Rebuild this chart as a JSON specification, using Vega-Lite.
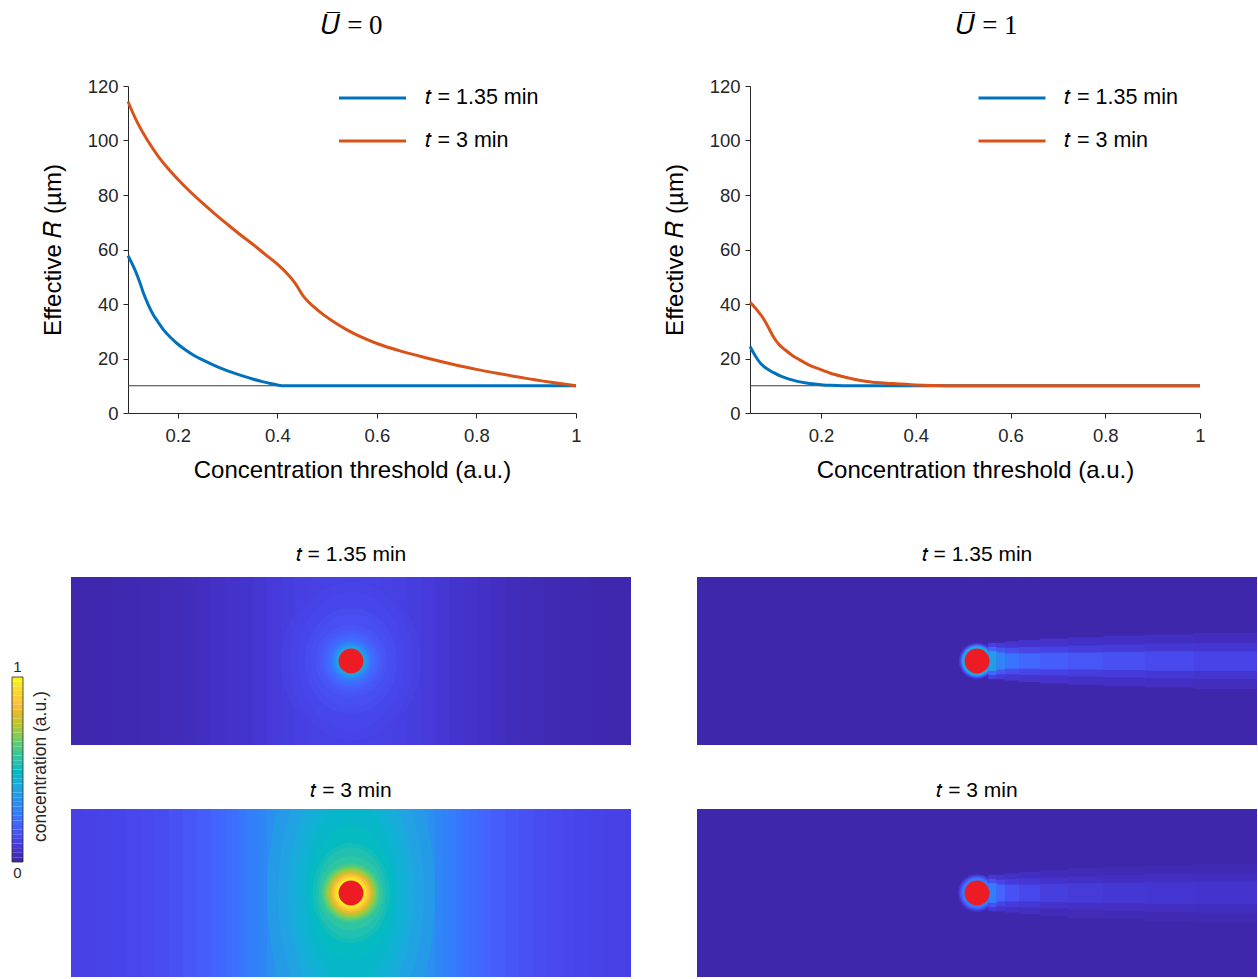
{
"$schema":"https://vega.github.io/schema/vega-lite/v6.json",
"autosize":{"type":"pad"},
"padding":{"left":0,"top":12,"right":0,"bottom":0},
"background":"white",
"config":{
 "view":{"stroke":null},
 "font":"Liberation Sans",
 "axis":{"grid":false,"domainColor":"#262626","domainWidth":1,"tickColor":"#262626","tickWidth":1,"tickSize":5,"labelColor":"#262626","labelFont":"Liberation Sans","labelFontSize":18.5,"labelFlush":false,"titleFont":"Liberation Sans","titleFontSize":24,"titleFontWeight":"normal","titleColor":"#000000"},
 "title":{"fontWeight":"normal","color":"#000000"}
},
"datasets":{
 "lineL":[
  {"s":"𝑡 = 1.35 min","th":0.1,"R":57.7},{"s":"𝑡 = 1.35 min","th":0.114,"R":52.5},{"s":"𝑡 = 1.35 min","th":0.124,"R":47.8},{"s":"𝑡 = 1.35 min","th":0.131,"R":44.0},{"s":"𝑡 = 1.35 min","th":0.141,"R":39.6},{"s":"𝑡 = 1.35 min","th":0.151,"R":36.0},{"s":"𝑡 = 1.35 min","th":0.16,"R":33.5},{"s":"𝑡 = 1.35 min","th":0.171,"R":30.6},{"s":"𝑡 = 1.35 min","th":0.185,"R":27.8},{"s":"𝑡 = 1.35 min","th":0.198,"R":25.6},{"s":"𝑡 = 1.35 min","th":0.215,"R":23.2},{"s":"𝑡 = 1.35 min","th":0.232,"R":21.2},{"s":"𝑡 = 1.35 min","th":0.25,"R":19.5},{"s":"𝑡 = 1.35 min","th":0.272,"R":17.6},{"s":"𝑡 = 1.35 min","th":0.29,"R":16.2},{"s":"𝑡 = 1.35 min","th":0.312,"R":14.7},{"s":"𝑡 = 1.35 min","th":0.33,"R":13.6},{"s":"𝑡 = 1.35 min","th":0.352,"R":12.4},{"s":"𝑡 = 1.35 min","th":0.37,"R":11.5},{"s":"𝑡 = 1.35 min","th":0.386,"R":10.8},{"s":"𝑡 = 1.35 min","th":0.4,"R":10.3},{"s":"𝑡 = 1.35 min","th":0.413,"R":10.0},{"s":"𝑡 = 1.35 min","th":0.6,"R":10.0},{"s":"𝑡 = 1.35 min","th":0.8,"R":10.0},{"s":"𝑡 = 1.35 min","th":1,"R":10.0},
  {"s":"𝑡 = 3 min","th":0.1,"R":114.3},{"s":"𝑡 = 3 min","th":0.11,"R":110.0},{"s":"𝑡 = 3 min","th":0.12,"R":106.2},{"s":"𝑡 = 3 min","th":0.14,"R":99.8},{"s":"𝑡 = 3 min","th":0.16,"R":94.4},{"s":"𝑡 = 3 min","th":0.18,"R":89.8},{"s":"𝑡 = 3 min","th":0.2,"R":85.8},{"s":"𝑡 = 3 min","th":0.225,"R":81.2},{"s":"𝑡 = 3 min","th":0.25,"R":77.0},{"s":"𝑡 = 3 min","th":0.275,"R":73.0},{"s":"𝑡 = 3 min","th":0.3,"R":69.2},{"s":"𝑡 = 3 min","th":0.325,"R":65.5},{"s":"𝑡 = 3 min","th":0.35,"R":62.0},{"s":"𝑡 = 3 min","th":0.375,"R":58.3},{"s":"𝑡 = 3 min","th":0.4,"R":54.6},{"s":"𝑡 = 3 min","th":0.419,"R":51.3},{"s":"𝑡 = 3 min","th":0.436,"R":47.6},{"s":"𝑡 = 3 min","th":0.453,"R":42.7},{"s":"𝑡 = 3 min","th":0.473,"R":39.0},{"s":"𝑡 = 3 min","th":0.493,"R":36.0},{"s":"𝑡 = 3 min","th":0.513,"R":33.5},{"s":"𝑡 = 3 min","th":0.54,"R":30.5},{"s":"𝑡 = 3 min","th":0.567,"R":28.0},{"s":"𝑡 = 3 min","th":0.6,"R":25.5},{"s":"𝑡 = 3 min","th":0.65,"R":22.6},{"s":"𝑡 = 3 min","th":0.7,"R":20.2},{"s":"𝑡 = 3 min","th":0.75,"R":18.0},{"s":"𝑡 = 3 min","th":0.8,"R":16.0},{"s":"𝑡 = 3 min","th":0.85,"R":14.3},{"s":"𝑡 = 3 min","th":0.9,"R":12.7},{"s":"𝑡 = 3 min","th":0.95,"R":11.3},{"s":"𝑡 = 3 min","th":1,"R":10.0}
 ],
 "lineR":[
  {"s":"𝑡 = 1.35 min","th":0.05,"R":24.4},{"s":"𝑡 = 1.35 min","th":0.057,"R":22.2},{"s":"𝑡 = 1.35 min","th":0.064,"R":20.2},{"s":"𝑡 = 1.35 min","th":0.071,"R":18.5},{"s":"𝑡 = 1.35 min","th":0.079,"R":17.1},{"s":"𝑡 = 1.35 min","th":0.09,"R":15.8},{"s":"𝑡 = 1.35 min","th":0.101,"R":14.7},{"s":"𝑡 = 1.35 min","th":0.115,"R":13.5},{"s":"𝑡 = 1.35 min","th":0.131,"R":12.5},{"s":"𝑡 = 1.35 min","th":0.15,"R":11.6},{"s":"𝑡 = 1.35 min","th":0.169,"R":11.0},{"s":"𝑡 = 1.35 min","th":0.2,"R":10.4},{"s":"𝑡 = 1.35 min","th":0.22,"R":10.15},{"s":"𝑡 = 1.35 min","th":0.245,"R":10.0},{"s":"𝑡 = 1.35 min","th":0.5,"R":10.0},{"s":"𝑡 = 1.35 min","th":1,"R":10.0},
  {"s":"𝑡 = 3 min","th":0.05,"R":40.6},{"s":"𝑡 = 3 min","th":0.058,"R":39.2},{"s":"𝑡 = 3 min","th":0.067,"R":37.3},{"s":"𝑡 = 3 min","th":0.075,"R":35.5},{"s":"𝑡 = 3 min","th":0.082,"R":33.6},{"s":"𝑡 = 3 min","th":0.09,"R":31.0},{"s":"𝑡 = 3 min","th":0.101,"R":27.5},{"s":"𝑡 = 3 min","th":0.112,"R":25.0},{"s":"𝑡 = 3 min","th":0.124,"R":23.2},{"s":"𝑡 = 3 min","th":0.138,"R":21.3},{"s":"𝑡 = 3 min","th":0.154,"R":19.6},{"s":"𝑡 = 3 min","th":0.175,"R":17.6},{"s":"𝑡 = 3 min","th":0.2,"R":15.9},{"s":"𝑡 = 3 min","th":0.22,"R":14.6},{"s":"𝑡 = 3 min","th":0.245,"R":13.4},{"s":"𝑡 = 3 min","th":0.27,"R":12.4},{"s":"𝑡 = 3 min","th":0.297,"R":11.6},{"s":"𝑡 = 3 min","th":0.325,"R":11.1},{"s":"𝑡 = 3 min","th":0.35,"R":10.8},{"s":"𝑡 = 3 min","th":0.4,"R":10.3},{"s":"𝑡 = 3 min","th":0.44,"R":10.1},{"s":"𝑡 = 3 min","th":0.47,"R":10.0},{"s":"𝑡 = 3 min","th":0.7,"R":10.0},{"s":"𝑡 = 3 min","th":1,"R":10.0}
 ],
 "stripes":[
  {"p":"TL","x1":-200,"x2":200,"c":0.008},{"p":"TL","x1":-190,"x2":190,"c":0.0085},{"p":"TL","x1":-180,"x2":180,"c":0.009},{"p":"TL","x1":-170,"x2":170,"c":0.011},{"p":"TL","x1":-160,"x2":160,"c":0.013},{"p":"TL","x1":-150,"x2":150,"c":0.016},{"p":"TL","x1":-140,"x2":140,"c":0.019},{"p":"TL","x1":-130,"x2":130,"c":0.023},{"p":"TL","x1":-120,"x2":120,"c":0.027},{"p":"TL","x1":-110,"x2":110,"c":0.032},{"p":"TL","x1":-100,"x2":100,"c":0.038},{"p":"TL","x1":-90,"x2":90,"c":0.046},{"p":"TL","x1":-80,"x2":80,"c":0.054},{"p":"TL","x1":-70,"x2":70,"c":0.064},{"p":"TL","x1":-60,"x2":60,"c":0.075},{"p":"TL","x1":-50,"x2":50,"c":0.084},{"p":"TL","x1":-40,"x2":40,"c":0.09},{"p":"TL","x1":-30,"x2":30,"c":0.094},{"p":"TL","x1":-20,"x2":20,"c":0.097},{"p":"TL","x1":-10,"x2":10,"c":0.099},
  {"p":"BL","x1":-200,"x2":200,"c":0.093},{"p":"BL","x1":-190,"x2":190,"c":0.097},{"p":"BL","x1":-180,"x2":180,"c":0.101},{"p":"BL","x1":-170,"x2":170,"c":0.107},{"p":"BL","x1":-160,"x2":160,"c":0.113},{"p":"BL","x1":-150,"x2":150,"c":0.121},{"p":"BL","x1":-140,"x2":140,"c":0.13},{"p":"BL","x1":-130,"x2":130,"c":0.142},{"p":"BL","x1":-120,"x2":120,"c":0.157},{"p":"BL","x1":-110,"x2":110,"c":0.175},{"p":"BL","x1":-100,"x2":100,"c":0.19},{"p":"BL","x1":-95,"x2":95,"c":0.204},{"p":"BL","x1":-90,"x2":90,"c":0.216},{"p":"BL","x1":-85,"x2":85,"c":0.228},{"p":"BL","x1":-80,"x2":80,"c":0.242},{"p":"BL","x1":-75,"x2":75,"c":0.258},{"p":"BL","x1":-70,"x2":70,"c":0.273},{"p":"BL","x1":-65,"x2":65,"c":0.29},{"p":"BL","x1":-60,"x2":60,"c":0.31},{"p":"BL","x1":-55,"x2":55,"c":0.33},{"p":"BL","x1":-50,"x2":50,"c":0.35},{"p":"BL","x1":-45,"x2":45,"c":0.37},{"p":"BL","x1":-40,"x2":40,"c":0.39},{"p":"BL","x1":-35,"x2":35,"c":0.41},{"p":"BL","x1":-30,"x2":30,"c":0.428},{"p":"BL","x1":-25,"x2":25,"c":0.442},{"p":"BL","x1":-20,"x2":20,"c":0.454},{"p":"BL","x1":-15,"x2":15,"c":0.462},{"p":"BL","x1":-10,"x2":10,"c":0.467},{"p":"BL","x1":-5,"x2":5,"c":0.47},
  {"p":"TR","x1":-200,"x2":200,"c":0.005},
  {"p":"BR","x1":-200,"x2":200,"c":0.005}
 ],
 "rings":[
  {"p":"TL","r":50,"a":1.15,"c":0.092},{"p":"TL","r":44,"a":1.3,"c":0.1},{"p":"TL","r":38,"a":1.3,"c":0.11},{"p":"TL","r":33,"a":1.15,"c":0.122},{"p":"TL","r":29,"a":1.15,"c":0.135},{"p":"TL","r":25.5,"a":1,"c":0.15},{"p":"TL","r":22.5,"a":1,"c":0.165},{"p":"TL","r":20,"a":1,"c":0.182},{"p":"TL","r":18,"a":1,"c":0.2},{"p":"TL","r":16.5,"a":1,"c":0.215},{"p":"TL","r":15,"a":1,"c":0.235},{"p":"TL","r":14,"a":1,"c":0.255},{"p":"TL","r":13,"a":1,"c":0.28},{"p":"TL","r":12,"a":1,"c":0.31},{"p":"TL","r":11,"a":1,"c":0.34},{"p":"TL","r":10.5,"a":1,"c":0.37},
  {"p":"BL","r":60,"a":2,"c":0.35},{"p":"BL","r":52,"a":2,"c":0.375},{"p":"BL","r":45,"a":2,"c":0.405},{"p":"BL","r":39,"a":2,"c":0.435},{"p":"BL","r":33,"a":2,"c":0.462},{"p":"BL","r":30,"a":1.6,"c":0.48},{"p":"BL","r":27.5,"a":1.3,"c":0.5},{"p":"BL","r":25,"a":1.3,"c":0.52},{"p":"BL","r":23,"a":1.15,"c":0.55},{"p":"BL","r":21,"a":1,"c":0.59},{"p":"BL","r":19.5,"a":1,"c":0.63},{"p":"BL","r":18,"a":1,"c":0.67},{"p":"BL","r":16.8,"a":1,"c":0.71},{"p":"BL","r":15.6,"a":1,"c":0.75},{"p":"BL","r":14.5,"a":1,"c":0.79},{"p":"BL","r":13.5,"a":1,"c":0.83},{"p":"BL","r":12.5,"a":1,"c":0.87},{"p":"BL","r":11.5,"a":1,"c":0.91},{"p":"BL","r":10.7,"a":1,"c":0.95},
  {"p":"TR","r":13,"a":1,"c":0.06},{"p":"TR","r":12,"a":1,"c":0.15},{"p":"TR","r":11.2,"a":1,"c":0.28},{"p":"TR","r":10.6,"a":1,"c":0.38},
  {"p":"BR","r":13.5,"a":1,"c":0.06},{"p":"BR","r":12.3,"a":1,"c":0.13},{"p":"BR","r":11.3,"a":1,"c":0.2},{"p":"BR","r":10.6,"a":1,"c":0.25}
 ],
 "tail":[
  {"p":"TR","x1":8,"x2":14,"lo":-13,"hi":13,"c":0.09},{"p":"TR","x1":8,"x2":14,"lo":-10,"hi":10,"c":0.19},{"p":"TR","x1":8,"x2":14,"lo":-7,"hi":7,"c":0.36},
  {"p":"TR","x1":14,"x2":20,"lo":-13,"hi":13,"c":0.07},{"p":"TR","x1":14,"x2":20,"lo":-9.5,"hi":9.5,"c":0.15},{"p":"TR","x1":14,"x2":20,"lo":-6,"hi":6,"c":0.28},
  {"p":"TR","x1":20,"x2":30,"lo":-14,"hi":14,"c":0.06},{"p":"TR","x1":20,"x2":30,"lo":-9.5,"hi":9.5,"c":0.125},{"p":"TR","x1":20,"x2":30,"lo":-5.5,"hi":5.5,"c":0.235},
  {"p":"TR","x1":30,"x2":45,"lo":-15,"hi":15,"c":0.052},{"p":"TR","x1":30,"x2":45,"lo":-10,"hi":10,"c":0.106},{"p":"TR","x1":30,"x2":45,"lo":-5.5,"hi":5.5,"c":0.2},
  {"p":"TR","x1":45,"x2":65,"lo":-16,"hi":16,"c":0.046},{"p":"TR","x1":45,"x2":65,"lo":-10.5,"hi":10.5,"c":0.093},{"p":"TR","x1":45,"x2":65,"lo":-6,"hi":6,"c":0.175},
  {"p":"TR","x1":65,"x2":90,"lo":-17,"hi":17,"c":0.041},{"p":"TR","x1":65,"x2":90,"lo":-11,"hi":11,"c":0.083},{"p":"TR","x1":65,"x2":90,"lo":-6,"hi":6,"c":0.155},
  {"p":"TR","x1":90,"x2":120,"lo":-18,"hi":18,"c":0.037},{"p":"TR","x1":90,"x2":120,"lo":-12,"hi":12,"c":0.074},{"p":"TR","x1":90,"x2":120,"lo":-6.5,"hi":6.5,"c":0.138},
  {"p":"TR","x1":120,"x2":155,"lo":-19,"hi":19,"c":0.033},{"p":"TR","x1":120,"x2":155,"lo":-12.5,"hi":12.5,"c":0.065},{"p":"TR","x1":120,"x2":155,"lo":-7,"hi":7,"c":0.12},
  {"p":"TR","x1":155,"x2":200,"lo":-20,"hi":20,"c":0.028},{"p":"TR","x1":155,"x2":200,"lo":-13,"hi":13,"c":0.056},{"p":"TR","x1":155,"x2":200,"lo":-7,"hi":7,"c":0.102},
  {"p":"BR","x1":8,"x2":14,"lo":-13,"hi":13,"c":0.066},{"p":"BR","x1":8,"x2":14,"lo":-10,"hi":10,"c":0.138},{"p":"BR","x1":8,"x2":14,"lo":-7,"hi":7,"c":0.26},
  {"p":"BR","x1":14,"x2":20,"lo":-13,"hi":13,"c":0.05},{"p":"BR","x1":14,"x2":20,"lo":-9.5,"hi":9.5,"c":0.1},{"p":"BR","x1":14,"x2":20,"lo":-6,"hi":6,"c":0.19},
  {"p":"BR","x1":20,"x2":30,"lo":-14,"hi":14,"c":0.038},{"p":"BR","x1":20,"x2":30,"lo":-10,"hi":10,"c":0.075},{"p":"BR","x1":20,"x2":30,"lo":-6,"hi":6,"c":0.14},
  {"p":"BR","x1":30,"x2":45,"lo":-15,"hi":15,"c":0.032},{"p":"BR","x1":30,"x2":45,"lo":-10.5,"hi":10.5,"c":0.062},{"p":"BR","x1":30,"x2":45,"lo":-6,"hi":6,"c":0.115},
  {"p":"BR","x1":45,"x2":65,"lo":-16.5,"hi":16.5,"c":0.024},{"p":"BR","x1":45,"x2":65,"lo":-11,"hi":11,"c":0.047},{"p":"BR","x1":45,"x2":65,"lo":-6.5,"hi":6.5,"c":0.085},
  {"p":"BR","x1":65,"x2":90,"lo":-18,"hi":18,"c":0.021},{"p":"BR","x1":65,"x2":90,"lo":-12,"hi":12,"c":0.04},{"p":"BR","x1":65,"x2":90,"lo":-7,"hi":7,"c":0.072},
  {"p":"BR","x1":90,"x2":120,"lo":-19,"hi":19,"c":0.018},{"p":"BR","x1":90,"x2":120,"lo":-13,"hi":13,"c":0.035},{"p":"BR","x1":90,"x2":120,"lo":-7.5,"hi":7.5,"c":0.063},
  {"p":"BR","x1":120,"x2":155,"lo":-20,"hi":20,"c":0.017},{"p":"BR","x1":120,"x2":155,"lo":-13.5,"hi":13.5,"c":0.032},{"p":"BR","x1":120,"x2":155,"lo":-8,"hi":8,"c":0.057},
  {"p":"BR","x1":155,"x2":200,"lo":-21,"hi":21,"c":0.016},{"p":"BR","x1":155,"x2":200,"lo":-14,"hi":14,"c":0.03},{"p":"BR","x1":155,"x2":200,"lo":-8,"hi":8,"c":0.052}
 ],
 "cbar":[
  {"a":0,"b":0.025},{"a":0.025,"b":0.05},{"a":0.05,"b":0.075},{"a":0.075,"b":0.1},{"a":0.1,"b":0.125},{"a":0.125,"b":0.15},{"a":0.15,"b":0.175},{"a":0.175,"b":0.2},{"a":0.2,"b":0.225},{"a":0.225,"b":0.25},{"a":0.25,"b":0.275},{"a":0.275,"b":0.3},{"a":0.3,"b":0.325},{"a":0.325,"b":0.35},{"a":0.35,"b":0.375},{"a":0.375,"b":0.4},{"a":0.4,"b":0.425},{"a":0.425,"b":0.45},{"a":0.45,"b":0.475},{"a":0.475,"b":0.5},{"a":0.5,"b":0.525},{"a":0.525,"b":0.55},{"a":0.55,"b":0.575},{"a":0.575,"b":0.6},{"a":0.6,"b":0.625},{"a":0.625,"b":0.65},{"a":0.65,"b":0.675},{"a":0.675,"b":0.7},{"a":0.7,"b":0.725},{"a":0.725,"b":0.75},{"a":0.75,"b":0.775},{"a":0.775,"b":0.8},{"a":0.8,"b":0.825},{"a":0.825,"b":0.85},{"a":0.85,"b":0.875},{"a":0.875,"b":0.9},{"a":0.9,"b":0.925},{"a":0.925,"b":0.95},{"a":0.95,"b":0.975},{"a":0.975,"b":1}
 ]
},
"columns":3,
"spacing":{"row":64,"column":66},
"bounds":"flush",
"align":"each",
"resolve":{"scale":{"stroke":"independent"},"legend":{"stroke":"independent"}},
"concat":[
 {"width":5,"height":10,"data":{"values":[]},"mark":"point"},
 {"width":560,"height":327,
  "title":{"text":"𝑈̅ = 0","font":"Liberation Serif","fontSize":27,"fontWeight":"normal","color":"#000000","offset":37,"dx":1},
  "layer":[
   {"data":{"values":[{}]},"mark":{"type":"rule","color":"#3a3a3a","strokeWidth":1},
    "encoding":{
     "x":{"datum":0.1,"type":"quantitative","scale":{"domain":[0.1,1],"range":[57,505],"nice":false,"zero":false},"axis":{"values":[0.2,0.4,0.6,0.8,1],"format":"~g","title":"Concentration threshold (a.u.)","labelPadding":8,"titlePadding":14}},
     "x2":{"datum":1},
     "y":{"datum":10,"type":"quantitative","scale":{"domain":[0,120],"nice":false,"zero":false},"axis":{"values":[0,20,40,60,80,100,120],"title":"Effective 𝑅 (µm)","labelPadding":5,"titlePadding":22,"offset":-57}}}},
   {"data":{"name":"lineL"},"mark":{"type":"line","strokeWidth":3,"interpolate":"monotone"},
    "encoding":{
     "x":{"field":"th","type":"quantitative","scale":{"domain":[0.1,1],"range":[57,505],"nice":false,"zero":false},"axis":{"values":[0.2,0.4,0.6,0.8,1],"format":"~g","title":"Concentration threshold (a.u.)","labelPadding":8,"titlePadding":14}},
     "y":{"field":"R","type":"quantitative","scale":{"domain":[0,120],"nice":false,"zero":false},"axis":{"values":[0,20,40,60,80,100,120],"title":"Effective 𝑅 (µm)","labelPadding":5,"titlePadding":22,"offset":-57}},
     "stroke":{"field":"s","type":"nominal","scale":{"domain":["𝑡 = 1.35 min","𝑡 = 3 min"],"range":["#0072BD","#D95319"]},
      "legend":{"orient":"none","legendX":266.5,"legendY":-0.5,"title":null,"symbolType":"stroke","symbolSize":4489,"symbolStrokeWidth":3,"clipHeight":25,"rowPadding":18,"labelOffset":17,"labelFontSize":21.5,"labelColor":"#000000","labelFont":"Liberation Sans","padding":0,"labelLimit":300}}
    }}
  ]},
 {"width":560,"height":327,
  "title":{"text":"𝑈̅ = 1","font":"Liberation Serif","fontSize":27,"fontWeight":"normal","color":"#000000","offset":37,"dx":10},
  "layer":[
   {"data":{"values":[{}]},"mark":{"type":"rule","color":"#3a3a3a","strokeWidth":1},
    "encoding":{
     "x":{"datum":0.05,"type":"quantitative","scale":{"domain":[0.05,1],"range":[53,503],"nice":false,"zero":false},"axis":{"values":[0.2,0.4,0.6,0.8,1],"format":"~g","title":"Concentration threshold (a.u.)","labelPadding":8,"titlePadding":14}},
     "x2":{"datum":1},
     "y":{"datum":10,"type":"quantitative","scale":{"domain":[0,120],"nice":false,"zero":false},"axis":{"values":[0,20,40,60,80,100,120],"title":"Effective 𝑅 (µm)","labelPadding":5,"titlePadding":22,"offset":-53}}}},
   {"data":{"name":"lineR"},"mark":{"type":"line","strokeWidth":3,"interpolate":"monotone"},
    "encoding":{
     "x":{"field":"th","type":"quantitative","scale":{"domain":[0.05,1],"range":[53,503],"nice":false,"zero":false},"axis":{"values":[0.2,0.4,0.6,0.8,1],"format":"~g","title":"Concentration threshold (a.u.)","labelPadding":8,"titlePadding":14}},
     "y":{"field":"R","type":"quantitative","scale":{"domain":[0,120],"nice":false,"zero":false},"axis":{"values":[0,20,40,60,80,100,120],"title":"Effective 𝑅 (µm)","labelPadding":5,"titlePadding":22,"offset":-53}},
     "stroke":{"field":"s","type":"nominal","scale":{"domain":["𝑡 = 1.35 min","𝑡 = 3 min"],"range":["#0072BD","#D95319"]},
      "legend":{"orient":"none","legendX":280,"legendY":-0.5,"title":null,"symbolType":"stroke","symbolSize":4489,"symbolStrokeWidth":3,"clipHeight":25,"rowPadding":18,"labelOffset":17,"labelFontSize":21.5,"labelColor":"#000000","labelFont":"Liberation Sans","padding":0,"labelLimit":300}}
    }}
  ]},
 {"width":5,"height":10,"data":{"values":[]},"mark":"point"},
 {"width":560,"height":268,
  "title":{"text":"𝑡 = 1.35 min","font":"Liberation Sans","fontSize":21,"fontWeight":"normal","color":"#000000","offset":-87.5},
  "layer":[
   {"data":{"name":"stripes"},"transform":[{"filter":"datum.p === 'TL'"}],"mark":{"type":"rect","clip":true},
    "encoding":{"x":{"field":"x1","type":"quantitative","scale":{"domain":[-200,200],"nice":false,"zero":false},"axis":null},"x2":{"field":"x2"},"y":{"datum":-60,"type":"quantitative","scale":{"domain":[-60,131.4286],"nice":false,"zero":false},"axis":null},"y2":{"datum":60},
     "color":{"field":"c","type":"quantitative","scale":{"domain":[0,0.047619,0.095238,0.142857,0.190476,0.238095,0.285714,0.333333,0.380952,0.428571,0.47619,0.52381,0.571429,0.619048,0.666667,0.714286,0.761905,0.809524,0.857143,0.904762,0.952381,1],"range":["#3e26a8","#4432cb","#4741e5","#4852f4","#4563fd","#3875fe","#2e87f7","#2796eb","#20a5e2","#12b1d6","#02bac3","#24c1ae","#37c897","#57cc7a","#81cc59","#abc739","#d1bf27","#efba36","#fec338","#f9d62d","#f5e924","#f9fb15"],"interpolate":"rgb"},"legend":null},"order":{"field":"c","type":"quantitative"}}},
   {"data":{"name":"rings"},"transform":[{"filter":"datum.p === 'TL'"}],"mark":{"type":"point","filled":true,"opacity":1,"strokeWidth":0,"clip":true},
    "encoding":{"x":{"datum":0,"type":"quantitative","scale":{"domain":[-200,200],"nice":false,"zero":false},"axis":null},"y":{"datum":0,"type":"quantitative","scale":{"domain":[-60,131.4286],"nice":false,"zero":false},"axis":null},
     "size":{"field":"r","type":"quantitative","scale":{"type":"pow","exponent":2,"domain":[0,100],"range":[0,78400],"zero":true},"legend":null},
     "shape":{"field":"a","type":"nominal","scale":{"domain":[1,1.15,1.3,1.6,2],"range":["M0,-1C0.5523,-1,1,-0.5523,1,0C1,0.5523,0.5523,1,0,1C-0.5523,1,-1,0.5523,-1,0C-1,-0.5523,-0.5523,-1,0,-1Z","M0,-1.15C0.5523,-1.15,1,-0.6351,1,0C1,0.6351,0.5523,1.15,0,1.15C-0.5523,1.15,-1,0.6351,-1,0C-1,-0.6351,-0.5523,-1.15,0,-1.15Z","M0,-1.3C0.5523,-1.3,1,-0.718,1,0C1,0.718,0.5523,1.3,0,1.3C-0.5523,1.3,-1,0.718,-1,0C-1,-0.718,-0.5523,-1.3,0,-1.3Z","M0,-1.6C0.5523,-1.6,1,-0.8837,1,0C1,0.8837,0.5523,1.6,0,1.6C-0.5523,1.6,-1,0.8837,-1,0C-1,-0.8837,-0.5523,-1.6,0,-1.6Z","M0,-2C0.5523,-2,1,-1.1046,1,0C1,1.1046,0.5523,2,0,2C-0.5523,2,-1,1.1046,-1,0C-1,-1.1046,-0.5523,-2,0,-2Z"]},"legend":null},
     "color":{"field":"c","type":"quantitative","scale":{"domain":[0,0.047619,0.095238,0.142857,0.190476,0.238095,0.285714,0.333333,0.380952,0.428571,0.47619,0.52381,0.571429,0.619048,0.666667,0.714286,0.761905,0.809524,0.857143,0.904762,0.952381,1],"range":["#3e26a8","#4432cb","#4741e5","#4852f4","#4563fd","#3875fe","#2e87f7","#2796eb","#20a5e2","#12b1d6","#02bac3","#24c1ae","#37c897","#57cc7a","#81cc59","#abc739","#d1bf27","#efba36","#fec338","#f9d62d","#f5e924","#f9fb15"],"interpolate":"rgb"},"legend":null},"order":{"field":"c","type":"quantitative"}}},
   {"data":{"values":[{"x":0,"y":0}]},"mark":{"type":"point","filled":true,"opacity":1,"shape":"circle","size":616,"color":"#ED1C24","strokeWidth":0},
    "encoding":{"x":{"field":"x","type":"quantitative","scale":{"domain":[-200,200],"nice":false,"zero":false},"axis":null},"y":{"field":"y","type":"quantitative","scale":{"domain":[-60,131.4286],"nice":false,"zero":false},"axis":null}}}
  ]},
 {"width":560,"height":268,
  "title":{"text":"𝑡 = 1.35 min","font":"Liberation Sans","fontSize":21,"fontWeight":"normal","color":"#000000","offset":-87.5},
  "layer":[
   {"data":{"name":"stripes"},"transform":[{"filter":"datum.p === 'TR'"}],"mark":{"type":"rect","clip":true},
    "encoding":{"x":{"field":"x1","type":"quantitative","scale":{"domain":[-200,200],"nice":false,"zero":false},"axis":null},"x2":{"field":"x2"},"y":{"datum":-60,"type":"quantitative","scale":{"domain":[-60,131.4286],"nice":false,"zero":false},"axis":null},"y2":{"datum":60},
     "color":{"field":"c","type":"quantitative","scale":{"domain":[0,0.047619,0.095238,0.142857,0.190476,0.238095,0.285714,0.333333,0.380952,0.428571,0.47619,0.52381,0.571429,0.619048,0.666667,0.714286,0.761905,0.809524,0.857143,0.904762,0.952381,1],"range":["#3e26a8","#4432cb","#4741e5","#4852f4","#4563fd","#3875fe","#2e87f7","#2796eb","#20a5e2","#12b1d6","#02bac3","#24c1ae","#37c897","#57cc7a","#81cc59","#abc739","#d1bf27","#efba36","#fec338","#f9d62d","#f5e924","#f9fb15"],"interpolate":"rgb"},"legend":null},"order":{"field":"c","type":"quantitative"}}},
   {"data":{"name":"rings"},"transform":[{"filter":"datum.p === 'TR'"}],"mark":{"type":"point","filled":true,"opacity":1,"strokeWidth":0,"clip":true},
    "encoding":{"x":{"datum":0,"type":"quantitative","scale":{"domain":[-200,200],"nice":false,"zero":false},"axis":null},"y":{"datum":0,"type":"quantitative","scale":{"domain":[-60,131.4286],"nice":false,"zero":false},"axis":null},
     "size":{"field":"r","type":"quantitative","scale":{"type":"pow","exponent":2,"domain":[0,100],"range":[0,78400],"zero":true},"legend":null},
     "shape":{"field":"a","type":"nominal","scale":{"domain":[1,1.15,1.3,1.6,2],"range":["M0,-1C0.5523,-1,1,-0.5523,1,0C1,0.5523,0.5523,1,0,1C-0.5523,1,-1,0.5523,-1,0C-1,-0.5523,-0.5523,-1,0,-1Z","M0,-1.15C0.5523,-1.15,1,-0.6351,1,0C1,0.6351,0.5523,1.15,0,1.15C-0.5523,1.15,-1,0.6351,-1,0C-1,-0.6351,-0.5523,-1.15,0,-1.15Z","M0,-1.3C0.5523,-1.3,1,-0.718,1,0C1,0.718,0.5523,1.3,0,1.3C-0.5523,1.3,-1,0.718,-1,0C-1,-0.718,-0.5523,-1.3,0,-1.3Z","M0,-1.6C0.5523,-1.6,1,-0.8837,1,0C1,0.8837,0.5523,1.6,0,1.6C-0.5523,1.6,-1,0.8837,-1,0C-1,-0.8837,-0.5523,-1.6,0,-1.6Z","M0,-2C0.5523,-2,1,-1.1046,1,0C1,1.1046,0.5523,2,0,2C-0.5523,2,-1,1.1046,-1,0C-1,-1.1046,-0.5523,-2,0,-2Z"]},"legend":null},
     "color":{"field":"c","type":"quantitative","scale":{"domain":[0,0.047619,0.095238,0.142857,0.190476,0.238095,0.285714,0.333333,0.380952,0.428571,0.47619,0.52381,0.571429,0.619048,0.666667,0.714286,0.761905,0.809524,0.857143,0.904762,0.952381,1],"range":["#3e26a8","#4432cb","#4741e5","#4852f4","#4563fd","#3875fe","#2e87f7","#2796eb","#20a5e2","#12b1d6","#02bac3","#24c1ae","#37c897","#57cc7a","#81cc59","#abc739","#d1bf27","#efba36","#fec338","#f9d62d","#f5e924","#f9fb15"],"interpolate":"rgb"},"legend":null},"order":{"field":"c","type":"quantitative"}}},
   {"data":{"name":"tail"},"transform":[{"filter":"datum.p === 'TR'"}],"mark":{"type":"rect","clip":true},
    "encoding":{"x":{"field":"x1","type":"quantitative","scale":{"domain":[-200,200],"nice":false,"zero":false},"axis":null},"x2":{"field":"x2"},"y":{"field":"lo","type":"quantitative","scale":{"domain":[-60,131.4286],"nice":false,"zero":false},"axis":null},"y2":{"field":"hi"},
     "color":{"field":"c","type":"quantitative","scale":{"domain":[0,0.047619,0.095238,0.142857,0.190476,0.238095,0.285714,0.333333,0.380952,0.428571,0.47619,0.52381,0.571429,0.619048,0.666667,0.714286,0.761905,0.809524,0.857143,0.904762,0.952381,1],"range":["#3e26a8","#4432cb","#4741e5","#4852f4","#4563fd","#3875fe","#2e87f7","#2796eb","#20a5e2","#12b1d6","#02bac3","#24c1ae","#37c897","#57cc7a","#81cc59","#abc739","#d1bf27","#efba36","#fec338","#f9d62d","#f5e924","#f9fb15"],"interpolate":"rgb"},"legend":null},"order":{"field":"c","type":"quantitative"}}},
   {"data":{"values":[{"x":0,"y":0}]},"mark":{"type":"point","filled":true,"opacity":1,"shape":"circle","size":616,"color":"#ED1C24","strokeWidth":0},
    "encoding":{"x":{"field":"x","type":"quantitative","scale":{"domain":[-200,200],"nice":false,"zero":false},"axis":null},"y":{"field":"y","type":"quantitative","scale":{"domain":[-60,131.4286],"nice":false,"zero":false},"axis":null}}}
  ]},
 {"width":5,"height":168,
  "layer":[
   {"data":{"name":"cbar"},"mark":{"type":"rect"},
    "encoding":{
     "x":{"datum":2.4,"type":"quantitative","scale":{"domain":[0,1],"nice":false,"zero":false},"axis":null},
     "x2":{"datum":4.6},
     "y":{"field":"a","type":"quantitative","scale":{"domain":[-0.6216,0.2865],"nice":false,"zero":false},"axis":{"orient":"right","title":"concentration (a.u.)","labels":false,"ticks":false,"domain":false,"titleAngle":270,"titlePadding":26,"titleY":-43,"titleFontSize":17.5,"titleColor":"#262626","titleAlign":"center","titleBaseline":"top","titleFontWeight":"normal"}},
     "y2":{"field":"b"},
     "color":{"field":"a","type":"quantitative","scale":{"domain":[0,0.047619,0.095238,0.142857,0.190476,0.238095,0.285714,0.333333,0.380952,0.428571,0.47619,0.52381,0.571429,0.619048,0.666667,0.714286,0.761905,0.809524,0.857143,0.904762,0.952381,1],"range":["#3e26a8","#4432cb","#4741e5","#4852f4","#4563fd","#3875fe","#2e87f7","#2796eb","#20a5e2","#12b1d6","#02bac3","#24c1ae","#37c897","#57cc7a","#81cc59","#abc739","#d1bf27","#efba36","#fec338","#f9d62d","#f5e924","#f9fb15"],"interpolate":"rgb"},"legend":null}
    }},
   {"data":{"values":[{}]},"mark":{"type":"rect","fillOpacity":0,"stroke":"#262626","strokeWidth":0.8},
    "encoding":{"x":{"datum":2.4,"type":"quantitative","scale":{"domain":[0,1],"nice":false,"zero":false},"axis":null},"x2":{"datum":4.6},
     "y":{"datum":0,"type":"quantitative","scale":{"domain":[-0.6216,0.2865],"nice":false,"zero":false},"axis":{"orient":"right","title":"concentration (a.u.)","labels":false,"ticks":false,"domain":false,"titleAngle":270,"titlePadding":26,"titleY":-43,"titleFontSize":17.5,"titleColor":"#262626","titleAlign":"center","titleBaseline":"top","titleFontWeight":"normal"}},"y2":{"datum":1}}},
   {"data":{"values":[{}]},"mark":{"type":"text","baseline":"alphabetic","align":"center","dy":-5,"fontSize":15,"color":"#262626","font":"Liberation Sans"},
    "encoding":{"x":{"datum":3.5,"type":"quantitative","scale":{"domain":[0,1],"nice":false,"zero":false},"axis":null},
     "y":{"datum":1,"type":"quantitative","scale":{"domain":[-0.6216,0.2865],"nice":false,"zero":false},"axis":{"orient":"right","title":"concentration (a.u.)","labels":false,"ticks":false,"domain":false,"titleAngle":270,"titlePadding":26,"titleY":-43,"titleFontSize":17.5,"titleColor":"#262626","titleAlign":"center","titleBaseline":"top","titleFontWeight":"normal"}},"text":{"value":"1"}}},
   {"data":{"values":[{}]},"mark":{"type":"text","baseline":"alphabetic","align":"center","dy":15.5,"fontSize":15,"color":"#262626","font":"Liberation Sans"},
    "encoding":{"x":{"datum":3.5,"type":"quantitative","scale":{"domain":[0,1],"nice":false,"zero":false},"axis":null},
     "y":{"datum":0,"type":"quantitative","scale":{"domain":[-0.6216,0.2865],"nice":false,"zero":false},"axis":{"orient":"right","title":"concentration (a.u.)","labels":false,"ticks":false,"domain":false,"titleAngle":270,"titlePadding":26,"titleY":-43,"titleFontSize":17.5,"titleColor":"#262626","titleAlign":"center","titleBaseline":"top","titleFontWeight":"normal"}},"text":{"value":"0"}}}
  ]},
 {"width":560,"height":168,
  "title":{"text":"𝑡 = 3 min","font":"Liberation Sans","fontSize":21,"fontWeight":"normal","color":"#000000","offset":8.5},
  "layer":[
   {"data":{"name":"stripes"},"transform":[{"filter":"datum.p === 'BL'"}],"mark":{"type":"rect","clip":true},
    "encoding":{"x":{"field":"x1","type":"quantitative","scale":{"domain":[-200,200],"nice":false,"zero":false},"axis":null},"x2":{"field":"x2"},"y":{"datum":-60,"type":"quantitative","scale":{"domain":[-60,60],"nice":false,"zero":false},"axis":null},"y2":{"datum":60},
     "color":{"field":"c","type":"quantitative","scale":{"domain":[0,0.047619,0.095238,0.142857,0.190476,0.238095,0.285714,0.333333,0.380952,0.428571,0.47619,0.52381,0.571429,0.619048,0.666667,0.714286,0.761905,0.809524,0.857143,0.904762,0.952381,1],"range":["#3e26a8","#4432cb","#4741e5","#4852f4","#4563fd","#3875fe","#2e87f7","#2796eb","#20a5e2","#12b1d6","#02bac3","#24c1ae","#37c897","#57cc7a","#81cc59","#abc739","#d1bf27","#efba36","#fec338","#f9d62d","#f5e924","#f9fb15"],"interpolate":"rgb"},"legend":null},"order":{"field":"c","type":"quantitative"}}},
   {"data":{"name":"rings"},"transform":[{"filter":"datum.p === 'BL'"}],"mark":{"type":"point","filled":true,"opacity":1,"strokeWidth":0,"clip":true},
    "encoding":{"x":{"datum":0,"type":"quantitative","scale":{"domain":[-200,200],"nice":false,"zero":false},"axis":null},"y":{"datum":0,"type":"quantitative","scale":{"domain":[-60,60],"nice":false,"zero":false},"axis":null},
     "size":{"field":"r","type":"quantitative","scale":{"type":"pow","exponent":2,"domain":[0,100],"range":[0,78400],"zero":true},"legend":null},
     "shape":{"field":"a","type":"nominal","scale":{"domain":[1,1.15,1.3,1.6,2],"range":["M0,-1C0.5523,-1,1,-0.5523,1,0C1,0.5523,0.5523,1,0,1C-0.5523,1,-1,0.5523,-1,0C-1,-0.5523,-0.5523,-1,0,-1Z","M0,-1.15C0.5523,-1.15,1,-0.6351,1,0C1,0.6351,0.5523,1.15,0,1.15C-0.5523,1.15,-1,0.6351,-1,0C-1,-0.6351,-0.5523,-1.15,0,-1.15Z","M0,-1.3C0.5523,-1.3,1,-0.718,1,0C1,0.718,0.5523,1.3,0,1.3C-0.5523,1.3,-1,0.718,-1,0C-1,-0.718,-0.5523,-1.3,0,-1.3Z","M0,-1.6C0.5523,-1.6,1,-0.8837,1,0C1,0.8837,0.5523,1.6,0,1.6C-0.5523,1.6,-1,0.8837,-1,0C-1,-0.8837,-0.5523,-1.6,0,-1.6Z","M0,-2C0.5523,-2,1,-1.1046,1,0C1,1.1046,0.5523,2,0,2C-0.5523,2,-1,1.1046,-1,0C-1,-1.1046,-0.5523,-2,0,-2Z"]},"legend":null},
     "color":{"field":"c","type":"quantitative","scale":{"domain":[0,0.047619,0.095238,0.142857,0.190476,0.238095,0.285714,0.333333,0.380952,0.428571,0.47619,0.52381,0.571429,0.619048,0.666667,0.714286,0.761905,0.809524,0.857143,0.904762,0.952381,1],"range":["#3e26a8","#4432cb","#4741e5","#4852f4","#4563fd","#3875fe","#2e87f7","#2796eb","#20a5e2","#12b1d6","#02bac3","#24c1ae","#37c897","#57cc7a","#81cc59","#abc739","#d1bf27","#efba36","#fec338","#f9d62d","#f5e924","#f9fb15"],"interpolate":"rgb"},"legend":null},"order":{"field":"c","type":"quantitative"}}},
   {"data":{"values":[{"x":0,"y":0}]},"mark":{"type":"point","filled":true,"opacity":1,"shape":"circle","size":616,"color":"#ED1C24","strokeWidth":0},
    "encoding":{"x":{"field":"x","type":"quantitative","scale":{"domain":[-200,200],"nice":false,"zero":false},"axis":null},"y":{"field":"y","type":"quantitative","scale":{"domain":[-60,60],"nice":false,"zero":false},"axis":null}}}
  ]},
 {"width":560,"height":168,
  "title":{"text":"𝑡 = 3 min","font":"Liberation Sans","fontSize":21,"fontWeight":"normal","color":"#000000","offset":8.5},
  "layer":[
   {"data":{"name":"stripes"},"transform":[{"filter":"datum.p === 'BR'"}],"mark":{"type":"rect","clip":true},
    "encoding":{"x":{"field":"x1","type":"quantitative","scale":{"domain":[-200,200],"nice":false,"zero":false},"axis":null},"x2":{"field":"x2"},"y":{"datum":-60,"type":"quantitative","scale":{"domain":[-60,60],"nice":false,"zero":false},"axis":null},"y2":{"datum":60},
     "color":{"field":"c","type":"quantitative","scale":{"domain":[0,0.047619,0.095238,0.142857,0.190476,0.238095,0.285714,0.333333,0.380952,0.428571,0.47619,0.52381,0.571429,0.619048,0.666667,0.714286,0.761905,0.809524,0.857143,0.904762,0.952381,1],"range":["#3e26a8","#4432cb","#4741e5","#4852f4","#4563fd","#3875fe","#2e87f7","#2796eb","#20a5e2","#12b1d6","#02bac3","#24c1ae","#37c897","#57cc7a","#81cc59","#abc739","#d1bf27","#efba36","#fec338","#f9d62d","#f5e924","#f9fb15"],"interpolate":"rgb"},"legend":null},"order":{"field":"c","type":"quantitative"}}},
   {"data":{"name":"rings"},"transform":[{"filter":"datum.p === 'BR'"}],"mark":{"type":"point","filled":true,"opacity":1,"strokeWidth":0,"clip":true},
    "encoding":{"x":{"datum":0,"type":"quantitative","scale":{"domain":[-200,200],"nice":false,"zero":false},"axis":null},"y":{"datum":0,"type":"quantitative","scale":{"domain":[-60,60],"nice":false,"zero":false},"axis":null},
     "size":{"field":"r","type":"quantitative","scale":{"type":"pow","exponent":2,"domain":[0,100],"range":[0,78400],"zero":true},"legend":null},
     "shape":{"field":"a","type":"nominal","scale":{"domain":[1,1.15,1.3,1.6,2],"range":["M0,-1C0.5523,-1,1,-0.5523,1,0C1,0.5523,0.5523,1,0,1C-0.5523,1,-1,0.5523,-1,0C-1,-0.5523,-0.5523,-1,0,-1Z","M0,-1.15C0.5523,-1.15,1,-0.6351,1,0C1,0.6351,0.5523,1.15,0,1.15C-0.5523,1.15,-1,0.6351,-1,0C-1,-0.6351,-0.5523,-1.15,0,-1.15Z","M0,-1.3C0.5523,-1.3,1,-0.718,1,0C1,0.718,0.5523,1.3,0,1.3C-0.5523,1.3,-1,0.718,-1,0C-1,-0.718,-0.5523,-1.3,0,-1.3Z","M0,-1.6C0.5523,-1.6,1,-0.8837,1,0C1,0.8837,0.5523,1.6,0,1.6C-0.5523,1.6,-1,0.8837,-1,0C-1,-0.8837,-0.5523,-1.6,0,-1.6Z","M0,-2C0.5523,-2,1,-1.1046,1,0C1,1.1046,0.5523,2,0,2C-0.5523,2,-1,1.1046,-1,0C-1,-1.1046,-0.5523,-2,0,-2Z"]},"legend":null},
     "color":{"field":"c","type":"quantitative","scale":{"domain":[0,0.047619,0.095238,0.142857,0.190476,0.238095,0.285714,0.333333,0.380952,0.428571,0.47619,0.52381,0.571429,0.619048,0.666667,0.714286,0.761905,0.809524,0.857143,0.904762,0.952381,1],"range":["#3e26a8","#4432cb","#4741e5","#4852f4","#4563fd","#3875fe","#2e87f7","#2796eb","#20a5e2","#12b1d6","#02bac3","#24c1ae","#37c897","#57cc7a","#81cc59","#abc739","#d1bf27","#efba36","#fec338","#f9d62d","#f5e924","#f9fb15"],"interpolate":"rgb"},"legend":null},"order":{"field":"c","type":"quantitative"}}},
   {"data":{"name":"tail"},"transform":[{"filter":"datum.p === 'BR'"}],"mark":{"type":"rect","clip":true},
    "encoding":{"x":{"field":"x1","type":"quantitative","scale":{"domain":[-200,200],"nice":false,"zero":false},"axis":null},"x2":{"field":"x2"},"y":{"field":"lo","type":"quantitative","scale":{"domain":[-60,60],"nice":false,"zero":false},"axis":null},"y2":{"field":"hi"},
     "color":{"field":"c","type":"quantitative","scale":{"domain":[0,0.047619,0.095238,0.142857,0.190476,0.238095,0.285714,0.333333,0.380952,0.428571,0.47619,0.52381,0.571429,0.619048,0.666667,0.714286,0.761905,0.809524,0.857143,0.904762,0.952381,1],"range":["#3e26a8","#4432cb","#4741e5","#4852f4","#4563fd","#3875fe","#2e87f7","#2796eb","#20a5e2","#12b1d6","#02bac3","#24c1ae","#37c897","#57cc7a","#81cc59","#abc739","#d1bf27","#efba36","#fec338","#f9d62d","#f5e924","#f9fb15"],"interpolate":"rgb"},"legend":null},"order":{"field":"c","type":"quantitative"}}},
   {"data":{"values":[{"x":0,"y":0}]},"mark":{"type":"point","filled":true,"opacity":1,"shape":"circle","size":616,"color":"#ED1C24","strokeWidth":0},
    "encoding":{"x":{"field":"x","type":"quantitative","scale":{"domain":[-200,200],"nice":false,"zero":false},"axis":null},"y":{"field":"y","type":"quantitative","scale":{"domain":[-60,60],"nice":false,"zero":false},"axis":null}}}
  ]}
]
}
